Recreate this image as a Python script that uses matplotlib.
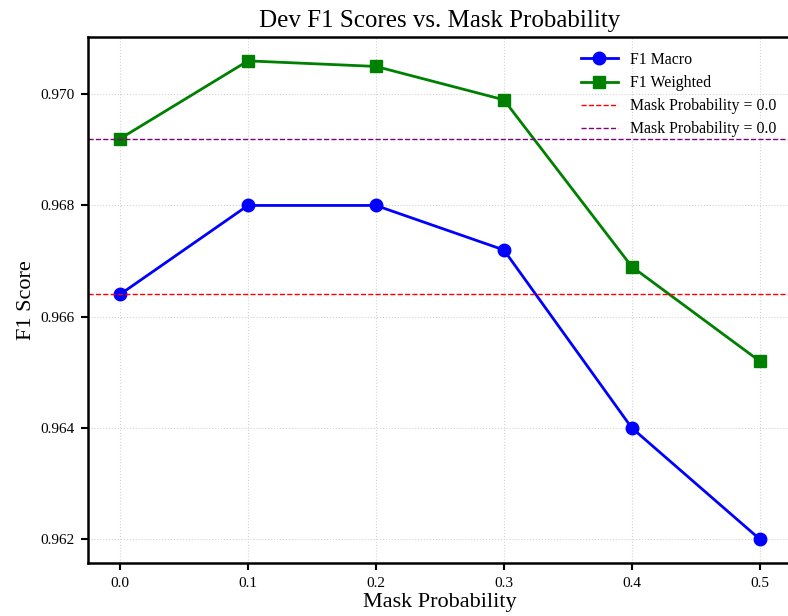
import matplotlib
matplotlib.use("Agg")
import matplotlib.pyplot as plt

plt.rcParams['font.family'] = ['Liberation Serif', 'DejaVu Serif']

mask_prob = [0.0, 0.1, 0.2, 0.3, 0.4, 0.5]
f1_macro = [0.9664, 0.9680, 0.9680, 0.9672, 0.9640, 0.9620]
f1_weighted = [0.9692, 0.9706, 0.9705, 0.9699, 0.9669, 0.9652]
base_macro = 0.9664
base_weighted = 0.9692

fig = plt.figure(figsize=(7.88, 6.16), dpi=100)
ax = fig.add_axes([0.1117, 0.086, 0.893, 0.854])

ax.plot(mask_prob, f1_macro, "-o", color="blue", linewidth=2, markersize=9, label="F1 Macro")
ax.plot(mask_prob, f1_weighted, "-s", color="green", linewidth=2, markersize=9, label="F1 Weighted")
ax.axhline(base_macro, color="red", linestyle="--", linewidth=1, label="Mask Probability = 0.0")
ax.axhline(base_weighted, color="purple", linestyle="--", linewidth=1, label="Mask Probability = 0.0")

ax.set_title("Dev F1 Scores vs. Mask Probability", fontsize=18, pad=7)
ax.set_xlabel("Mask Probability", fontsize=16, labelpad=2)
ax.set_ylabel("F1 Score", fontsize=16, labelpad=3)
ax.set_xticks(mask_prob)
ax.set_yticks([0.962, 0.964, 0.966, 0.968, 0.970])
ax.tick_params(labelsize=11, length=5, width=1.5, pad=5)
ax.grid(True, linestyle=":", color="lightgray", linewidth=0.8)
for s in ax.spines.values():
    s.set_linewidth(1.8)
ax.legend(loc="upper right", frameon=False, fontsize=11.4, handlelength=2.3,
          labelspacing=0.45, borderaxespad=0.55)

fig.savefig("out.png", dpi=100)
